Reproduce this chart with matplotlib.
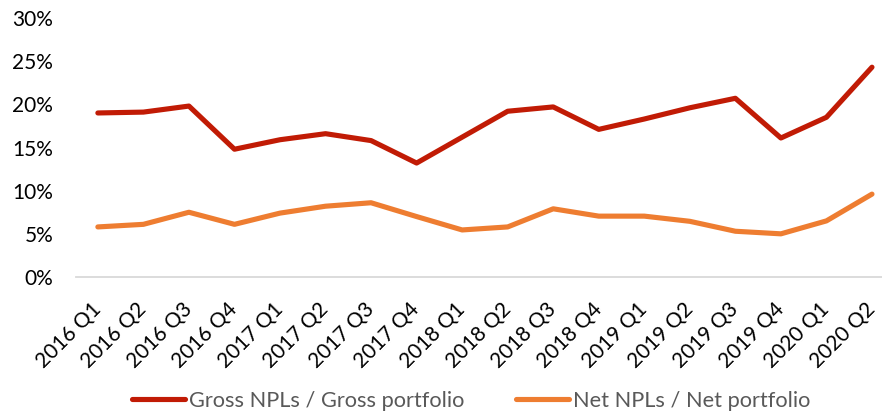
import matplotlib
matplotlib.use("Agg")
import matplotlib.pyplot as plt
from matplotlib.ticker import FuncFormatter, MultipleLocator

quarters = ["2016 Q1", "2016 Q2", "2016 Q3", "2016 Q4",
            "2017 Q1", "2017 Q2", "2017 Q3", "2017 Q4",
            "2018 Q1", "2018 Q2", "2018 Q3", "2018 Q4",
            "2019 Q1", "2019 Q2", "2019 Q3", "2019 Q4",
            "2020 Q1", "2020 Q2"]
gross = [19.0, 19.1, 19.8, 14.8, 15.9, 16.6, 15.8, 13.2, 16.2,
         19.2, 19.7, 17.1, 18.3, 19.6, 20.7, 16.1, 18.5, 24.3]
net = [5.8, 6.1, 7.5, 6.1, 7.4, 8.2, 8.6, 7.0, 5.45,
       5.8, 7.9, 7.05, 7.05, 6.45, 5.3, 5.0, 6.5, 9.6]

plt.rcParams['font.family'] = ['Lato', 'DejaVu Sans']

W, H = 882, 411
fig = plt.figure(figsize=(W / 100, H / 100), dpi=100)
ax = fig.add_axes([76 / W, (H - 277) / H, (W - 76) / W, (277 - 18) / H])

x = list(range(len(quarters)))
l1, = ax.plot(x, gross, color="#C11B05", lw=3.7, solid_capstyle="round",
              solid_joinstyle="round", clip_on=False,
              label="Gross NPLs / Gross portfolio")
l2, = ax.plot(x, net, color="#EE7D31", lw=3.7, solid_capstyle="round",
              solid_joinstyle="round", clip_on=False,
              label="Net NPLs / Net portfolio")

ax.set_xlim(-0.48, 17.22)
ax.set_ylim(0, 30)
ax.yaxis.set_major_locator(MultipleLocator(5))
ax.yaxis.set_major_formatter(FuncFormatter(lambda v, p: f"{v:.0f}%"))
ax.set_xticks(x)
ax.set_xticklabels(quarters, rotation=45, ha="right", va="center",
                   rotation_mode="anchor", fontsize=15)
ax.tick_params(axis="y", length=0, pad=16.5, labelsize=15, colors="#000000")
ax.tick_params(axis="x", length=0, pad=21, colors="#000000")

for s in ["top", "right", "left"]:
    ax.spines[s].set_visible(False)
ax.spines["bottom"].set_color("#D9D9D9")
ax.spines["bottom"].set_linewidth(1.3)

leg = fig.legend(handles=[l1, l2], loc="center left",
                 bbox_to_anchor=(125 / W, (H - 401) / H), ncol=2, frameon=False,
                 fontsize=15.7, handlelength=2.45, handletextpad=0.18,
                 columnspacing=2.35, labelcolor="#595959",
                 borderaxespad=0, borderpad=0.3)

fig.savefig("out.png", dpi=100)
